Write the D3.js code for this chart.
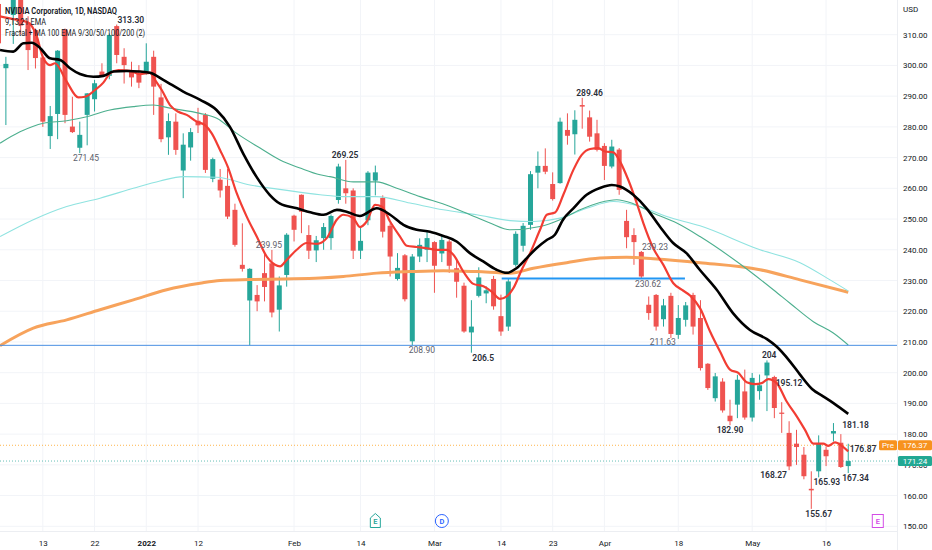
<!DOCTYPE html>
<html>
<head>
<meta charset="utf-8">
<script src="https://cdn.jsdelivr.net/npm/d3@7"></script>
<style>
body { margin: 0; background: #fff; }
svg { display: block; font-family: Roboto, "Liberation Sans", Arial, sans-serif; }
</style>
</head>
<body>
<svg id="chart" width="932" height="550"></svg>
<script>
//////////////////////////////////////////////////////////////////////////////
// data

// [date, open, high, low, close]
var candles = [
    ["2021-12-03", 320.0, 322.0, 305.0, 307.2],
    ["2021-12-06", 299.1, 302.8, 280.6, 300.5],
    ["2021-12-07", 316.4, 326.0, 307.0, 324.0],
    ["2021-12-08", 323.0, 325.0, 310.0, 313.0],
    ["2021-12-09", 314.0, 316.0, 298.5, 305.0],
    ["2021-12-10", 311.5, 312.0, 299.0, 302.4],
    ["2021-12-13", 302.6, 303.0, 280.0, 281.7],
    ["2021-12-14", 277.0, 286.8, 272.8, 283.5],
    ["2021-12-15", 284.2, 305.0, 276.0, 304.8],
    ["2021-12-16", 311.7, 312.0, 281.2, 283.9],
    ["2021-12-17", 280.1, 289.8, 278.0, 278.3],
    ["2021-12-20", 273.2, 281.7, 271.45, 277.4],
    ["2021-12-21", 283.9, 291.0, 274.0, 290.9],
    ["2021-12-22", 289.0, 295.3, 285.0, 294.2],
    ["2021-12-23", 298.0, 300.7, 296.3, 296.6],
    ["2021-12-27", 296.6, 310.4, 295.5, 309.9],
    ["2021-12-28", 312.8, 313.3, 300.7, 303.4],
    ["2021-12-29", 302.8, 305.6, 294.1, 300.1],
    ["2021-12-30", 298.5, 301.2, 293.1, 296.1],
    ["2021-12-31", 297.4, 300.1, 292.6, 294.4],
    ["2022-01-03", 298.0, 307.2, 297.0, 301.2],
    ["2022-01-04", 302.8, 304.8, 283.9, 293.1],
    ["2022-01-05", 289.6, 294.0, 275.0, 276.0],
    ["2022-01-06", 276.6, 284.4, 270.9, 281.9],
    ["2022-01-07", 281.7, 284.4, 270.9, 272.5],
    ["2022-01-10", 265.8, 277.9, 256.8, 274.2],
    ["2022-01-11", 273.3, 279.6, 269.0, 278.3],
    ["2022-01-12", 282.0, 286.2, 278.0, 280.5],
    ["2022-01-13", 283.9, 284.5, 265.0, 266.0],
    ["2022-01-14", 263.1, 270.0, 262.0, 269.5],
    ["2022-01-18", 262.8, 266.3, 257.0, 259.3],
    ["2022-01-19", 260.8, 266.3, 250.0, 250.8],
    ["2022-01-20", 253.0, 255.0, 241.0, 241.6],
    ["2022-01-21", 235.1, 248.6, 232.9, 233.8],
    ["2022-01-24", 223.5, 234.0, 208.9, 233.8],
    ["2022-01-25", 225.3, 228.5, 220.0, 223.2],
    ["2022-01-26", 232.4, 239.0, 223.2, 227.9],
    ["2022-01-27", 235.6, 239.95, 218.0, 219.6],
    ["2022-01-28", 220.5, 231.3, 213.4, 228.4],
    ["2022-01-31", 231.8, 245.4, 228.0, 244.9],
    ["2022-02-01", 251.1, 251.4, 242.7, 246.5],
    ["2022-02-02", 257.9, 258.0, 245.4, 252.4],
    ["2022-02-03", 244.8, 248.0, 237.0, 239.7],
    ["2022-02-04", 239.8, 244.5, 236.0, 243.1],
    ["2022-02-07", 243.8, 248.7, 240.0, 247.4],
    ["2022-02-08", 243.8, 251.5, 240.0, 251.0],
    ["2022-02-09", 256.2, 268.0, 255.0, 267.1],
    ["2022-02-10", 260.0, 269.25, 255.0, 258.4],
    ["2022-02-11", 259.3, 260.0, 237.0, 239.7],
    ["2022-02-14", 239.7, 247.6, 237.0, 242.9],
    ["2022-02-15", 249.6, 265.6, 248.0, 265.1],
    ["2022-02-16", 262.5, 267.4, 257.7, 265.2],
    ["2022-02-17", 256.9, 257.7, 244.0, 245.9],
    ["2022-02-18", 247.8, 248.6, 231.3, 237.8],
    ["2022-02-22", 230.5, 238.9, 230.0, 234.1],
    ["2022-02-23", 238.2, 238.6, 223.2, 223.9],
    ["2022-02-24", 210.2, 238.6, 208.9, 237.8],
    ["2022-02-25", 237.8, 243.7, 236.0, 241.6],
    ["2022-02-28", 240.0, 246.0, 236.0, 243.8],
    ["2022-03-01", 242.5, 242.8, 226.0, 234.8],
    ["2022-03-02", 238.8, 244.7, 236.0, 243.2],
    ["2022-03-03", 242.7, 243.3, 232.5, 234.8],
    ["2022-03-04", 234.0, 236.8, 224.4, 229.6],
    ["2022-03-07", 228.3, 229.3, 213.0, 213.4],
    ["2022-03-08", 213.1, 223.6, 206.5, 215.0],
    ["2022-03-09", 225.0, 234.3, 224.5, 231.0],
    ["2022-03-10", 225.8, 228.1, 222.6, 226.8],
    ["2022-03-11", 230.5, 231.5, 220.5, 221.6],
    ["2022-03-14", 218.4, 225.4, 212.0, 213.4],
    ["2022-03-15", 215.0, 230.5, 213.6, 229.7],
    ["2022-03-16", 235.1, 246.0, 234.5, 245.2],
    ["2022-03-17", 241.3, 248.7, 239.4, 247.8],
    ["2022-03-18", 248.1, 265.6, 246.5, 264.6],
    ["2022-03-21", 265.1, 272.0, 260.0, 267.3],
    ["2022-03-22", 267.3, 273.0, 264.6, 265.4],
    ["2022-03-23", 261.4, 265.2, 256.0, 256.5],
    ["2022-03-24", 261.7, 283.0, 261.5, 281.7],
    ["2022-03-25", 279.0, 284.4, 274.2, 277.1],
    ["2022-03-28", 277.6, 285.4, 271.0, 282.3],
    ["2022-03-29", 287.1, 289.46, 279.4, 286.6],
    ["2022-03-30", 283.1, 285.3, 275.2, 276.8],
    ["2022-03-31", 277.9, 282.3, 272.0, 272.5],
    ["2022-04-01", 273.8, 274.7, 262.7, 267.3],
    ["2022-04-04", 267.1, 275.8, 266.5, 273.6],
    ["2022-04-05", 272.6, 273.1, 257.9, 259.5],
    ["2022-04-06", 249.4, 253.0, 240.5, 244.1],
    ["2022-04-07", 244.8, 247.0, 235.1, 242.5],
    ["2022-04-08", 239.3, 239.6, 230.8, 231.3],
    ["2022-04-11", 222.1, 224.8, 217.2, 219.4],
    ["2022-04-12", 225.3, 225.6, 213.7, 215.0],
    ["2022-04-13", 217.4, 224.0, 215.0, 221.9],
    ["2022-04-14", 225.0, 226.0, 211.3, 212.6],
    ["2022-04-18", 212.3, 222.0, 211.0, 217.8],
    ["2022-04-19", 217.2, 223.0, 215.0, 221.9],
    ["2022-04-20", 225.3, 226.0, 212.4, 215.0],
    ["2022-04-21", 217.8, 223.6, 200.7, 201.5],
    ["2022-04-22", 202.9, 203.1, 194.4, 195.0],
    ["2022-04-25", 191.7, 199.9, 190.6, 198.8],
    ["2022-04-26", 197.1, 198.2, 187.0, 187.7],
    ["2022-04-27", 186.0, 191.2, 182.9, 184.2],
    ["2022-04-28", 189.6, 199.3, 185.2, 197.7],
    ["2022-04-29", 193.9, 201.0, 184.7, 185.4],
    ["2022-05-02", 185.4, 199.9, 184.1, 198.3],
    ["2022-05-03", 194.0, 199.4, 191.2, 195.9],
    ["2022-05-04", 199.1, 204.0, 187.5, 203.3],
    ["2022-05-05", 198.6, 199.0, 185.2, 188.5],
    ["2022-05-06", 187.0, 190.4, 180.4, 186.6],
    ["2022-05-09", 180.4, 184.2, 168.27, 169.5],
    ["2022-05-10", 176.9, 181.4, 170.0, 175.8],
    ["2022-05-11", 173.3, 175.8, 165.3, 166.3],
    ["2022-05-12", 162.2, 167.9, 155.67, 161.7],
    ["2022-05-13", 167.9, 179.6, 165.93, 177.1],
    ["2022-05-16", 174.9, 176.0, 169.6, 172.8],
    ["2022-05-17", 180.2, 183.6, 177.6, 181.0],
    ["2022-05-18", 177.2, 180.0, 169.0, 169.3],
    ["2022-05-19", 169.6, 176.87, 167.34, 171.24]
];

// empty sessions to the right of the last bar
var futureDates = ["2022-05-20", "2022-05-23", "2022-05-24", "2022-05-25", "2022-05-26", "2022-05-27"];

var timeTicks = [
    ["2021-12-13", "13"], ["2021-12-22", "22"], ["2022-01-03", "2022"], ["2022-01-12", "12"],
    ["2022-02-01", "Feb"], ["2022-02-14", "14"], ["2022-03-01", "Mar"], ["2022-03-14", "14"],
    ["2022-03-23", "23"], ["2022-04-01", "Apr"], ["2022-04-18", "18"], ["2022-05-02", "May"],
    ["2022-05-16", "16"]
];
var priceTicks = [150, 160, 170, 180, 190, 200, 210, 220, 230, 240, 250, 260, 270, 280, 290, 300, 310];

// indicator lines, [bar, price] read at points along each curve
var ema9 = [
    [0.2,316],[2.2,315],[4.0,314],[5.1,310],[6.07,302.3],[6.97,300.1],[7.65,300.7],[9.23,294.7],
    [10.8,289.6],[11.71,289.8],[13.06,292],[14.19,294.4],[15.09,297.4],[16.22,298.5],[17.8,298.2],
    [19.15,297.2],[20.5,297.6],[21.18,295.3],[22.09,292],[23.21,287.1],[24.34,284.9],[25.47,283.9],
    [26.83,281.7],[27.95,280.6],[28.86,277.9],[29.98,272.5],[31.1,266.6],[32.24,258.4],[33.59,250.8],
    [34.95,244.3],[36.3,237.8],[37.42,235.1],[38.1,234.6],[39.0,236.7],[40.36,240],[41.71,242.2],
    [43.07,241.9],[44.42,243.8],[45.78,249.8],[46.67,251.4],[48.02,250.3],[48.93,247.4],[49.83,249.2],
    [50.96,254.6],[51.87,254.1],[52.99,249.2],[54.34,244.3],[55.25,241.3],[56.6,240.9],[57.96,240.5],
    [59.31,240],[60.66,240],[61.56,238.4],[62.91,232.9],[64.26,228.9],[65.62,228.1],[66.75,226.4],
    [67.88,224.0],[68.78,224.8],[69.68,227.5],[70.81,233.5],[71.94,238.9],[73.29,246.5],[74.2,251.4],
    [75.32,252.1],[76.44,257.9],[77.8,266],[78.93,270.9],[80.06,272.8],[81.18,273.1],[82.09,272],
    [83.21,271.7],[84.12,268.7],[85.24,262.7],[86.38,255.2],[87.27,248.7],[88.62,240.5],[89.98,235.1],
    [91.33,229.1],[92.46,227],[93.59,225.1],[94.94,221],[96.3,213.4],[97.65,206.9],[99.0,201],
    [100.13,199.9],[101.26,196.9],[102.38,196.3],[103.29,196.6],[104.18,197.9],[105.32,196.6],
    [106.67,190.6],[108.03,185.8],[109.15,181.4],[110.28,176.9],[111.63,176.9],[112.31,176.2],
    [113.21,177.3],[114.12,176.2],[115.0,174.4]
];
var ema21 = [
    [0.21,305.0],[2.0,304.5],[3.36,307.2],[4.5,307.4],[5.62,305.7],[6.97,302.3],[8.33,301.8],
    [9.68,299.1],[11.03,297.2],[12.83,296.3],[14.19,296.6],[15.54,298],[17.35,298.2],[19.15,298],
    [20.51,297.6],[22.3,295.3],[25.0,291.5],[27.3,288.8],[29.5,285.5],[31.3,280.1],[33.1,271.4],
    [34.9,263.8],[36.7,257.9],[38.1,255],[40.4,253.5],[42.2,252.2],[44.0,251.4],[45.8,253],
    [47.1,252.4],[48.9,251],[51.2,253.5],[53.0,251.4],[54.8,248.1],[56.6,246.5],[58.4,245.9],
    [60.2,244.5],[62.0,242.7],[63.8,238.9],[65.6,236.2],[67.4,233.5],[68.8,232.5],[70.1,234],
    [71.5,237.3],[72.8,240.5],[74.2,243.2],[75.3,244.9],[76.4,249.8],[77.8,253.5],[79.6,257.9],
    [81.4,260.1],[83.0,261.1],[84.1,260.6],[85.9,257.9],[87.7,253.5],[89.5,247.6],[91.3,242.2],
    [93.1,238.9],[94.9,233.5],[97.2,227],[99.4,219.4],[101.7,213.9],[104.0,210.9],[105.3,208.5],
    [107.1,203.7],[108.5,199.3],[110.1,194.7],[111.6,192.3],[113.0,190.1],[115.0,186.6]
];
var ema50 = [
    [0.21,274.7],[2.91,278.4],[6.07,281.2],[9.23,282],[11.94,283.3],[15.09,285.5],[18.25,286.6],
    [20.95,287.1],[23.21,286.1],[27.27,284.4],[29.54,282.8],[32.24,277.9],[35.4,273.1],[38.1,269.2],
    [40.81,266.6],[43.52,264.4],[44.87,263.8],[48.02,262.1],[51.19,262.1],[53.9,260],[57.05,257.3],
    [61.11,254.1],[63.82,251.4],[66.52,248.7],[69.23,246.5],[73.29,247.6],[75.99,249.8],[78.7,253],
    [81.4,255.4],[83.67,256.3],[85.92,255],[88.62,251.9],[91.79,248.7],[94.94,244.3],[99.95,236.1],
    [104.86,227],[107.12,222.6],[110.28,216.6],[112.98,212.9],[115.0,209]
];
var ema100 = [
    [0.21,244.3],[4.71,249.8],[9.23,254.1],[13.74,256.8],[18.25,260],[21.86,262.4],[25.02,263.8],
    [29.54,263.6],[34.04,261.1],[38.55,259.5],[43.52,257.9],[46.67,257.3],[51.19,257.3],[55.7,255.2],
    [60.2,253],[64.72,251.4],[69.23,249.5],[72.38,249.2],[75.99,250.3],[79.61,253.5],[83.21,255.7],
    [86.82,254.1],[90.44,250.8],[94.94,247.8],[103.06,240],[108.48,235.8],[112.54,230.2],[115.0,226.6]
];
var ema200 = [
    [0.2,208.8],[4.71,214.5],[9.23,217.2],[13.74,220.5],[18.25,223.7],[22.76,227.0],[27.27,229.1],
    [30.0,230.0],[34.04,230.3],[38.55,230.5],[43.52,230.8],[46.67,231.3],[51.19,232.4],[55.7,232.9],
    [60.2,233.2],[64.72,232.9],[69.23,232.4],[72.38,234],[76.9,235.8],[81.4,237.3],[85.02,237.6],
    [88.62,237.1],[94.94,235.8],[103.06,233.5],[108.48,230.2],[115.0,226.2]
];

// horizontal levels: full-width support and the short one from mid March
var supportLevel = 208.90;
var shortLevel = [68.1, 92.9, 230.62];   // [from bar, to bar, price]

// fractal labels: [bar, text, H/L]
var fractalDark = [
    [17.9, "313.30", "H"], [46.9, "269.25", "H"], [65.6, "206.5", "L"], [80, "289.46", "H"],
    [104.3, "204", "H"], [107, "195.12", "H"], [99, "182.90", "L"], [116, "181.18", "H"],
    [117, "176.87", "L"], [104.9, "168.27", "L"], [112.1, "165.93", "L"], [116, "167.34", "L"],
    [111, "155.67", "L"]
];
var fractalGray = [
    [11.85, "271.45", "L"], [36.6, "239.95", "H"], [57.3, "208.90", "L"], [88.85, "239.23", "H"],
    [87.9, "230.62", "L"], [89.9, "211.63", "L"]
];

var events = [["2022-02-16", "E", "earnings"], ["2022-03-02", "D", "dividend"], ["2022-05-25", "E", "upcoming"]];

var lastClose = 171.24;
var prePrice = 176.37;

var legendLines = ["NVIDIA Corporation, 1D, NASDAQ", "9,13,21 EMA", "Fractal + MA 100 EMA 9/30/50/100/200 (2)"];

//////////////////////////////////////////////////////////////////////////////
// scales

var plotRight = 897, plotBottom = 531;
var up = "#26a69a", down = "#ef5350";

var allDates = candles.map(function(d) { return d[0]; }).concat(futureDates);
var barOf = {};
allDates.forEach(function(d, i) { barOf[d] = i; });

var x = d3.scaleLinear().domain([0, 121]).range([-1.5, -1.5 + 121 * 7.389]);
var y = d3.scaleLinear().domain([150, 310]).range([526.3, 34.7]);

var svg = d3.select("#chart");

svg.append("defs").append("clipPath").attr("id", "plotclip")
    .append("rect").attr("x", 0).attr("y", 0).attr("width", plotRight).attr("height", plotBottom);

// grid
var grid = svg.append("g").attr("clip-path", "url(#plotclip)");
grid.selectAll("line.h").data(priceTicks).join("line")
    .attr("x1", 0).attr("x2", plotRight)
    .attr("y1", function(d) { return y(d); }).attr("y2", function(d) { return y(d); })
    .attr("stroke", "#f2f4f8");
grid.selectAll("line.v").data(timeTicks).join("line")
    .attr("x1", function(d) { return x(barOf[d[0]]); }).attr("x2", function(d) { return x(barOf[d[0]]); })
    .attr("y1", 0).attr("y2", plotBottom)
    .attr("stroke", "#f2f4f8");

var plot = svg.append("g").attr("clip-path", "url(#plotclip)");

// last close / pre market dotted lines
plot.append("line").attr("x1", 0).attr("x2", plotRight)
    .attr("y1", y(prePrice)).attr("y2", y(prePrice))
    .attr("stroke", "#ff9800").attr("stroke-dasharray", "1,2").attr("opacity", 0.7);
plot.append("line").attr("x1", 0).attr("x2", plotRight)
    .attr("y1", y(lastClose)).attr("y2", y(lastClose))
    .attr("stroke", up).attr("stroke-dasharray", "1,2").attr("opacity", 0.7);

// candles
var bodyW = 5;
var cg = plot.selectAll("g.candle").data(candles).join("g").attr("class", "candle");
cg.append("line")
    .attr("x1", function(d, i) { return x(i); }).attr("x2", function(d, i) { return x(i); })
    .attr("y1", function(d) { return y(d[2]); }).attr("y2", function(d) { return y(d[3]); })
    .attr("stroke", function(d) { return d[4] >= d[1] ? up : down; })
    .attr("stroke-width", 1);
cg.append("rect")
    .attr("x", function(d, i) { return x(i) - bodyW / 2; })
    .attr("width", bodyW)
    .attr("y", function(d) { return y(Math.max(d[1], d[4])); })
    .attr("height", function(d) { return Math.max(1, Math.abs(y(d[1]) - y(d[4]))); })
    .attr("fill", function(d) { return d[4] >= d[1] ? up : down; });

// indicator lines
var line = d3.line()
    .x(function(d) { return x(d[0]); })
    .y(function(d) { return y(d[1]); })
    .curve(d3.curveMonotoneX);

plot.append("path").datum(ema200).attr("d", line).attr("fill", "none")
    .attr("stroke", "#f7a35c").attr("stroke-width", 3);
plot.append("path").datum(ema100).attr("d", line).attr("fill", "none")
    .attr("stroke", "#8fe3e0").attr("stroke-width", 1.1);
plot.append("path").datum(ema50).attr("d", line).attr("fill", "none")
    .attr("stroke", "#4caf8e").attr("stroke-width", 1.1);

plot.append("line")
    .attr("x1", 0).attr("x2", plotRight)
    .attr("y1", y(supportLevel)).attr("y2", y(supportLevel))
    .attr("stroke", "#4a90e2").attr("stroke-width", 1);
plot.append("line")
    .attr("x1", x(shortLevel[0])).attr("x2", x(shortLevel[1]))
    .attr("y1", y(shortLevel[2])).attr("y2", y(shortLevel[2]))
    .attr("stroke", "#2196f3").attr("stroke-width", 2);

plot.append("path").datum(ema9).attr("d", line).attr("fill", "none")
    .attr("stroke", "#f23d33").attr("stroke-width", 2.2);
plot.append("path").datum(ema21).attr("d", line).attr("fill", "none")
    .attr("stroke", "#000").attr("stroke-width", 2.6);

// fractal labels
function drawLabels(rows, color, weight) {
    plot.selectAll(null).data(rows).join("text")
        .attr("x", function(d) { return x(d[0]); })
        .attr("y", function(d) { return y(+d[1]) + (d[2] === "H" ? -5 : 5); })
        .attr("text-anchor", "middle")
        .attr("dominant-baseline", "central")
        .attr("font-size", "8.5px")
        .attr("font-weight", weight)
        .attr("fill", color)
        .text(function(d) { return d[1]; });
}
drawLabels(fractalGray, "#5d606b", 400);
drawLabels(fractalDark, "#2a2e39", 600);

// events on the time line
var evColor = { earnings: "#26a69a", dividend: "#2962ff", upcoming: "#d34ce6" };
var eg = svg.selectAll("g.ev").data(events).join("g")
    .attr("transform", function(d) { return "translate(" + x(barOf[d[0]]) + ",521)"; });
eg.each(function(d) {
    var g = d3.select(this);
    var c = evColor[d[2]];
    if (d[2] === "earnings")
        g.append("path").attr("d", "M-5,-3 L0,-7.5 L5,-3 L5,6.5 L-5,6.5 Z")
            .attr("fill", "#fff").attr("stroke", c).attr("stroke-width", 1);
    else if (d[2] === "dividend")
        g.append("circle").attr("r", 6.5).attr("fill", "#fff").attr("stroke", c).attr("stroke-width", 1);
    else
        g.append("rect").attr("x", -5.5).attr("y", -6.5).attr("width", 11).attr("height", 13)
            .attr("fill", "#fff").attr("stroke", c).attr("stroke-width", 1);
    g.append("text").attr("text-anchor", "middle").attr("dominant-baseline", "central")
        .attr("y", 0.5).attr("font-size", "7.5px").attr("font-weight", 600)
        .attr("fill", c).text(d[1]);
});

//////////////////////////////////////////////////////////////////////////////
// axes

svg.append("line").attr("x1", plotRight + 0.5).attr("x2", plotRight + 0.5)
    .attr("y1", 0).attr("y2", 550).attr("stroke", "#eceef2");
svg.append("line").attr("x1", 0).attr("x2", plotRight)
    .attr("y1", plotBottom + 0.5).attr("y2", plotBottom + 0.5).attr("stroke", "#eceef2");

var yAxis = d3.axisRight(y).tickValues(priceTicks).tickSize(0).tickPadding(6)
    .tickFormat(d3.format(".2f"));
svg.append("g").attr("transform", "translate(" + plotRight + ",0)").call(yAxis)
    .call(function(g) { g.select(".domain").remove(); })
    .selectAll("text").attr("font-size", "8px").attr("fill", "#131722")
    .attr("font-family", "Roboto, 'Liberation Sans', Arial, sans-serif");

var tickBars = timeTicks.map(function(d) { return barOf[d[0]]; });
var tickText = {};
timeTicks.forEach(function(d) { tickText[barOf[d[0]]] = d[1]; });
var xAxis = d3.axisBottom(x).tickValues(tickBars).tickSize(0).tickPadding(6)
    .tickFormat(function(d) { return tickText[d]; });
svg.append("g").attr("transform", "translate(0," + (plotBottom + 3) + ")").call(xAxis)
    .call(function(g) { g.select(".domain").remove(); })
    .selectAll("text").attr("font-size", "8px").attr("fill", "#131722")
    .attr("font-family", "Roboto, 'Liberation Sans', Arial, sans-serif")
    .attr("font-weight", function(d) { return tickText[d] === "2022" ? 700 : 400; });

svg.append("text").attr("x", 903).attr("y", 12).attr("font-size", "8px")
    .attr("fill", "#131722").text("USD");

// price boxes on the scale
function priceBox(price, color, x0, w, label) {
    svg.append("rect").attr("x", x0).attr("y", y(price) - 5).attr("width", w).attr("height", 10)
        .attr("fill", color).attr("rx", 1.5);
    svg.append("text").attr("x", x0 + w / 2).attr("y", y(price) + 0.5)
        .attr("text-anchor", "middle").attr("dominant-baseline", "central")
        .attr("font-size", "8px").attr("fill", "#fff").text(label);
}
priceBox(prePrice, "#f7921e", 879, 18, "Pre");
priceBox(prePrice, "#f7921e", 898, 34, d3.format(".2f")(prePrice));
priceBox(lastClose, "#22a893", 898, 34, d3.format(".2f")(lastClose));

// legend, the source font is narrow so each line is fitted to its width
var legendWidths = [112, 41, 140];
svg.selectAll("text.legend").data(legendLines).join("text")
    .attr("class", "legend")
    .attr("x", 5)
    .attr("y", function(d, i) { return 11 + i * 11; })
    .attr("dominant-baseline", "central")
    .attr("font-size", "9px")
    .attr("font-weight", function(d, i) { return i === 0 ? 600 : 400; })
    .attr("textLength", function(d, i) { return legendWidths[i]; })
    .attr("lengthAdjust", "spacingAndGlyphs")
    .attr("fill", "#131722")
    .text(function(d) { return d; });
</script>
</body>
</html>
